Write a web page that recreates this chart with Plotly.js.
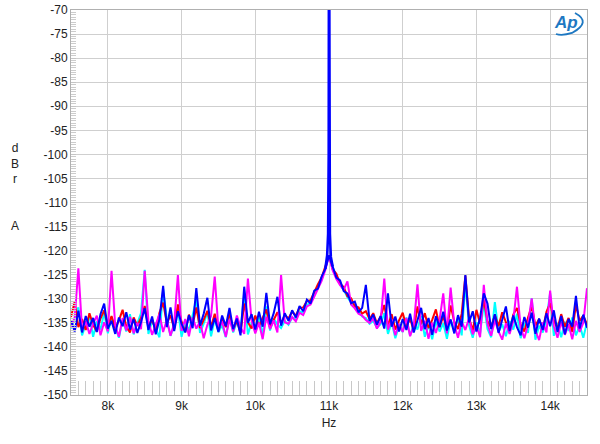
<!DOCTYPE html>
<html><head><meta charset="utf-8">
<script src="https://cdn.plot.ly/plotly-3.0.1.min.js"></script>
<style>html,body{margin:0;padding:0;background:#fff}#chart{width:600px;height:444px}</style>
</head><body><div id="chart"></div>
<script>
// Frequency grid: start and step (Hz) used by the library (x0/dx)
var startHz = 7500;
var stepHz = 50;

var xTickVals = [8000, 9000, 10000, 11000, 12000, 13000, 14000];
var xTickText = ['8k', '9k', '10k', '11k', '12k', '13k', '14k'];
var yTickVals = [-150, -145, -140, -135, -130, -125, -120, -115, -110, -105, -100, -95, -90, -85, -80, -75, -70];
var yTickText = ['-150', '-145', '-140', '-135', '-130', '-125', '-120', '-115', '-110', '-105', '-100', '-95', '-90', '-85', '-80', '-75', '-70'];

var blueDb = [
-134.5,-136.8,-132.5,-137.0,-133.6,-135.8,-134.0,-136.9,-133.2,-131.0,
-136.2,-134.6,-137.3,-133.9,-135.7,-132.8,-136.4,-134.2,-137.1,-134.8,
-132.0,-136.5,-133.7,-137.4,-134.3,-127.3,-135.9,-131.8,-136.7,-132.6,
-135.2,-137.0,-133.4,-136.1,-127.8,-135.6,-133.1,-129.8,-136.6,-134.0,
-136.9,-133.5,-135.7,-131.9,-136.3,-134.1,-137.6,-127.5,-135.0,-133.2,
-136.4,-132.7,-135.8,-128.8,-135.3,-133.0,-129.6,-135.6,-133.0,-134.6,
-132.4,-133.9,-131.5,-132.6,-130.2,-131.0,-128.3,-127.9,-125.4,-123.8,
-121.0,-123.3,-125.6,-126.2,-128.4,-128.9,-130.9,-130.6,-132.8,-131.9,
-127.1,-134.6,-133.3,-135.4,-133.6,-136.2,-128.9,-135.8,-133.7,-136.8,
-134.2,-136.5,-133.1,-137.0,-134.5,-131.9,-136.3,-134.0,-137.5,-133.6,
-135.9,-132.7,-136.6,-134.3,-137.2,-133.4,-135.8,-125.1,-134.9,-132.6,
-136.8,-133.9,-128.9,-131.0,-136.3,-133.2,-137.1,-134.4,-131.6,-136.7,
-133.5,-135.9,-137.6,-133.8,-136.0,-132.9,-137.3,-134.1,-136.5,-133.0,
-135.7,-132.4,-136.9,-133.6,-137.4,-134.2,-135.8,-129.4,-136.2,-133.3,
-136.0];

var magentaDb = [
-135.8,-133.9,-123.7,-136.4,-134.7,-137.3,-135.2,-133.5,-137.6,-134.9,
-136.8,-124.2,-135.5,-137.9,-134.0,-136.6,-133.8,-137.2,-135.0,-136.3,
-124.2,-134.6,-137.5,-135.3,-133.2,-136.9,-134.4,-137.7,-135.1,-125.1,
-136.7,-134.2,-137.8,-133.9,-136.2,-134.8,-138.2,-135.4,-133.6,-125.4,
-136.4,-134.7,-137.9,-134.3,-136.8,-133.5,-135.9,-137.3,-125.8,-134.6,
-137.2,-135.0,-138.4,-133.7,-136.3,-134.5,-137.0,-125.1,-134.9,-135.2,
-133.8,-134.7,-132.9,-133.4,-131.6,-131.2,-129.5,-128.0,-126.3,-124.0,
-121.0,-124.1,-125.9,-127.2,-128.1,-126.4,-131.2,-132.0,-133.1,-133.5,
-134.4,-135.0,-134.1,-136.2,-134.8,-125.8,-136.4,-134.3,-137.6,-135.2,
-136.9,-134.0,-137.8,-135.5,-127.0,-136.7,-134.6,-138.3,-135.0,-137.1,
-134.4,-128.9,-137.2,-127.7,-135.3,-138.1,-134.7,-136.5,-134.0,-137.4,
-135.6,-138.0,-127.1,-135.2,-137.7,-134.5,-136.8,-138.5,-135.1,-137.3,
-134.6,-127.5,-136.0,-138.2,-135.4,-129.9,-136.6,-138.6,-134.9,-137.0,
-128.3,-135.7,-138.1,-134.8,-137.5,-135.3,-138.4,-134.6,-136.9,-135.0,
-127.8];

var redDb = [
-133.8,-130.6,-135.9,-134.2,-136.5,-133.0,-135.4,-136.8,-134.1,-132.4,
-135.7,-133.6,-136.2,-134.5,-132.3,-135.8,-137.0,-133.9,-135.6,-134.0,
-131.5,-135.9,-134.3,-136.7,-132.9,-130.8,-135.1,-133.4,-136.3,-131.2,
-134.8,-136.9,-133.3,-135.5,-131.8,-136.1,-134.4,-132.5,-135.8,-133.1,
-136.6,-134.2,-135.9,-133.0,-136.4,-134.6,-137.1,-131.0,-134.9,-136.2,
-133.5,-135.7,-134.0,-132.2,-136.0,-134.3,-132.8,-135.1,-133.4,-134.1,
-132.7,-133.5,-131.9,-131.8,-130.5,-130.3,-128.6,-127.0,-125.6,-123.2,
-121.0,-123.9,-124.8,-126.9,-127.6,-129.5,-129.9,-131.6,-131.8,-133.1,
-132.6,-134.2,-133.0,-135.1,-133.7,-131.3,-135.6,-133.2,-136.4,-134.5,
-132.9,-135.8,-134.1,-136.7,-131.6,-135.3,-133.0,-136.1,-134.4,-132.2,
-135.9,-133.6,-136.5,-131.4,-134.8,-136.3,-133.1,-125.2,-134.0,-136.6,
-132.3,-135.2,-130.2,-134.7,-136.0,-133.4,-135.7,-132.8,-134.9,-137.0,
-133.3,-131.9,-135.4,-136.8,-133.9,-131.5,-135.6,-134.2,-136.4,-132.7,
-130.9,-134.5,-136.2,-133.2,-135.8,-134.0,-136.9,-131.2,-134.6,-133.5,
-135.3];

var cyanDb = [
-136.2,-134.0,-131.8,-137.6,-135.3,-133.6,-137.9,-134.7,-136.4,-132.9,
-137.2,-133.8,-135.9,-138.1,-134.5,-136.8,-133.2,-137.4,-135.1,-133.0,
-124.0,-137.3,-134.6,-136.5,-138.0,-128.0,-134.3,-137.7,-135.5,-132.0,
-137.9,-134.9,-136.6,-133.4,-130.2,-137.1,-135.2,-132.8,-137.8,-134.2,
-136.9,-135.5,-138.0,-133.6,-137.0,-134.8,-136.3,-129.0,-137.4,-135.0,
-136.8,-133.9,-137.5,-131.6,-136.6,-134.1,-135.3,-136.1,-134.6,-135.4,
-133.9,-134.2,-132.6,-132.9,-131.3,-130.8,-129.2,-127.6,-126.0,-123.6,
-121.0,-123.5,-125.3,-127.0,-128.2,-129.7,-130.8,-131.8,-132.5,-133.7,
-134.0,-135.2,-134.6,-136.0,-135.3,-133.0,-137.3,-134.9,-138.2,-135.6,
-136.9,-133.9,-137.7,-135.2,-136.4,-133.6,-137.9,-135.4,-138.4,-134.7,
-136.8,-135.1,-138.3,-134.4,-136.6,-133.8,-137.6,-126.8,-135.5,-138.1,
-134.9,-137.2,-131.0,-136.3,-138.0,-130.7,-136.9,-135.3,-137.8,-134.6,
-136.4,-133.1,-138.2,-135.0,-137.1,-129.9,-138.5,-135.6,-137.0,-134.3,
-128.8,-137.7,-135.1,-138.0,-134.8,-136.7,-133.9,-137.6,-135.5,-138.1,
-134.9];

// Fundamental tone detail around 11 kHz
var peakHz = [10950, 10975, 10988, 10996, 11000, 11004, 11012, 11025, 11050];
var peakDb = [-123.8, -121.0, -116.5, -100.0, -40.0, -100.0, -116.5, -121.3, -123.3];

function noiseTrace(y, color) {
  return {type: 'scatter', mode: 'lines', x0: startHz, dx: stepHz, y: y,
          line: {color: color, width: 2}, hoverinfo: 'skip', showlegend: false};
}

var traces = [
  noiseTrace(cyanDb, '#00ffff'),
  noiseTrace(redDb, '#ff0000'),
  noiseTrace(magentaDb, '#ff00ff'),
  noiseTrace(blueDb, '#0000ff'),
  {type: 'scatter', mode: 'lines', x: peakHz, y: peakDb,
   line: {color: '#0000ff', width: 2.6}, hoverinfo: 'skip', showlegend: false}
];

var font = 'Liberation Sans, Arial, sans-serif';
var gridC = '#cfcfcf';
var layout = {
  width: 600, height: 444,
  margin: {l: 71, r: 13, t: 10, b: 49, pad: 0},
  paper_bgcolor: '#ffffff', plot_bgcolor: '#ffffff',
  font: {family: font, size: 12, color: '#222222'},
  showlegend: false,
  xaxis: {
    range: [7500, 14500], tickmode: 'array', tickvals: xTickVals, ticktext: xTickText,
    showgrid: true, gridcolor: gridC, gridwidth: 1, zeroline: false,
    showline: true, linecolor: '#b0b0b0', linewidth: 1, mirror: true,
    ticks: 'inside', ticklen: 14, tickcolor: '#c4c4c4', tickwidth: 1,
    minor: {tickmode: 'linear', tick0: 7500, dtick: 100, ticks: 'inside', ticklen: 14, tickcolor: '#c8c8c8', tickwidth: 1, showgrid: false},
    tickfont: {family: font, size: 12, color: '#222222'},
    title: {text: 'Hz', font: {family: font, size: 12, color: '#222222'}, standoff: 6}
  },
  yaxis: {
    range: [-150, -70], tickmode: 'array', tickvals: yTickVals, ticktext: yTickText,
    showgrid: true, gridcolor: gridC, gridwidth: 1, zeroline: false,
    showline: true, linecolor: '#b0b0b0', linewidth: 1, mirror: true,
    ticks: 'inside', ticklen: 5, tickcolor: '#c4c4c4', tickwidth: 1,
    minor: {tickmode: 'linear', tick0: -150, dtick: 0.5, ticks: 'inside', ticklen: 5, tickcolor: '#cccccc', tickwidth: 1, showgrid: false},
    tickfont: {family: font, size: 12, color: '#222222'}
  },
  annotations: [
    {text: 'd<br>B<br>r<br><br><br>A', xref: 'paper', yref: 'paper', x: -0.108, y: 0.54,
     xanchor: 'center', yanchor: 'middle', showarrow: false,
     font: {family: font, size: 12, color: '#222222'}},
    {text: '<b><i>Ap</i></b>', xref: 'paper', yref: 'paper', x: 0.9585, y: 0.967,
     xanchor: 'center', yanchor: 'middle', showarrow: false,
     font: {family: font, size: 17, color: '#1e78c2'}}
  ],
  shapes: [
    {type: 'path', xref: 'paper', yref: 'paper',
     path: 'M 0.9767 0.9922 Q 1.0097 0.9688 0.9709 0.9403 Q 0.9516 0.9325 0.9399 0.9377',
     line: {color: '#1e78c2', width: 1.8}}
  ]
};

Plotly.newPlot('chart', traces, layout, {staticPlot: true, displayModeBar: false});
</script>
</body></html>
